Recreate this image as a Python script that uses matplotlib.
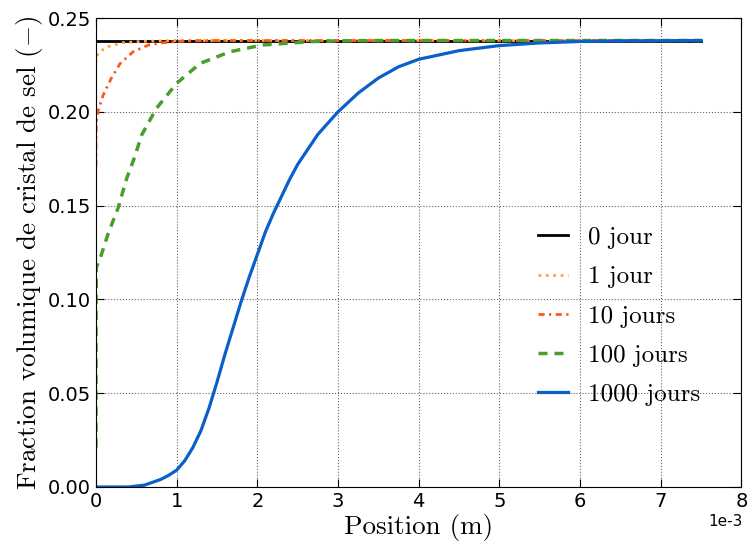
import matplotlib
matplotlib.use("Agg")
import matplotlib.pyplot as plt

plt.rcParams['mathtext.fontset'] = 'cm'
plt.rcParams['axes.unicode_minus'] = False

# Data (x in metres)
x_0 = [0.0, 7.5e-3]
y_0 = [0.238, 0.238]

x_1 = [0.0, 0.00001e-3, 0.04e-3, 0.15e-3, 0.32e-3, 0.6e-3, 1.0e-3, 7.5e-3]
y_1 = [0.226, 0.229, 0.232, 0.2347, 0.2368, 0.2376, 0.238, 0.238]

x_10 = [0.0, 0.00001e-3, 0.005e-3, 0.03e-3, 0.09e-3, 0.19e-3, 0.30e-3, 0.46e-3,
        0.65e-3, 0.83e-3, 1.0e-3, 1.3e-3, 7.5e-3]
y_10 = [0.171, 0.185, 0.195, 0.201, 0.209, 0.2179, 0.2258, 0.232,
        0.2356, 0.2368, 0.2375, 0.238, 0.238]

x_100 = [0.0, 0.00001e-3, 0.003e-3, 0.06e-3, 0.15e-3, 0.276e-3, 0.38e-3, 0.48e-3,
         0.565e-3, 0.75e-3, 1.0e-3, 1.29e-3, 1.66e-3, 2.06e-3, 2.65e-3, 3.0e-3,
         3.5e-3, 7.5e-3]
y_100 = [0.021, 0.08, 0.117, 0.123, 0.135, 0.149, 0.1645, 0.176,
         0.1876, 0.2019, 0.2152, 0.2258, 0.232, 0.2356, 0.2374, 0.2378,
         0.238, 0.238]

x_1000 = [0.0, 0.4e-3, 0.6e-3, 0.8e-3, 0.9e-3, 1.0e-3, 1.1e-3, 1.2e-3, 1.3e-3,
          1.4e-3, 1.5e-3, 1.6e-3, 1.7e-3, 1.8e-3, 1.9e-3, 2.0e-3, 2.1e-3,
          2.2e-3, 2.3e-3, 2.4e-3, 2.5e-3, 2.75e-3, 3.0e-3, 3.25e-3, 3.5e-3,
          3.75e-3, 4.0e-3, 4.5e-3, 5.0e-3, 5.5e-3, 6.0e-3, 6.5e-3, 7.5e-3]
y_1000 = [0.0, 0.0, 0.001, 0.004, 0.0062, 0.009, 0.014, 0.021, 0.030,
          0.042, 0.056, 0.071, 0.085, 0.099, 0.112, 0.124, 0.136,
          0.146, 0.155, 0.164, 0.172, 0.188, 0.200, 0.210, 0.218,
          0.224, 0.228, 0.2326, 0.2353, 0.2367, 0.2375, 0.2378, 0.238]

labels = ['0 jour', '1 jour', '10 jours', '100 jours', '1000 jours']
x_ticks = [0, 1e-3, 2e-3, 3e-3, 4e-3, 5e-3, 6e-3, 7e-3, 8e-3]
y_ticks = [0.0, 0.05, 0.10, 0.15, 0.20, 0.25]

fig = plt.figure(figsize=(7.47, 5.49), dpi=100)
ax = fig.add_axes([96/747, 1-487/549, (741.5-96)/747, (487-18)/549])

ax.plot(x_0, y_0, color='black', lw=2.0, linestyle='-', label=labels[0])
ax.plot(x_1, y_1, color='#ffa53a', lw=2.0, linestyle=':', label=labels[1])
ax.plot(x_10, y_10, color='#ff5a1a', lw=2.0, dashes=[2.2, 1.6, 0.8, 1.6], label=labels[2])
ax.plot(x_100, y_100, color='#4a9e2c', lw=2.5, dashes=[2.6, 2.0], label=labels[3])
ax.plot(x_1000, y_1000, color='#0a5fc8', lw=2.3, linestyle='-', label=labels[4])

ax.set_xlim(0, 8e-3)
ax.set_ylim(0, 0.25)
ax.set_xticks(x_ticks)
ax.set_yticks(y_ticks)
ax.ticklabel_format(axis='x', style='sci', scilimits=(-3, -3))
ax.tick_params(direction='in', top=True, right=True, labelsize=14, length=6)
ax.xaxis.get_offset_text().set_visible(False)
fig.text(743/747, 1-522/549, '1e-3', ha='right', va='center', fontsize=11)
ax.grid(True, color='black', linestyle=':', lw=0.8, alpha=0.6)

ax.set_xlabel('Position (m)', family='cmr10', fontsize=19.5, labelpad=2)
ax.set_ylabel(r'Fraction volumique de cristal de sel $(-)$', family='cmr10',
              fontsize=19.5, labelpad=2)

leg = ax.legend(loc='upper left', bbox_to_anchor=(0.685, 0.555), frameon=False,
                prop={'family': 'cmr10', 'size': 18}, handlelength=1.2,
                handletextpad=0.8, labelspacing=0.67, borderpad=0,
                borderaxespad=0)

fig.savefig('out.png', dpi=100)
